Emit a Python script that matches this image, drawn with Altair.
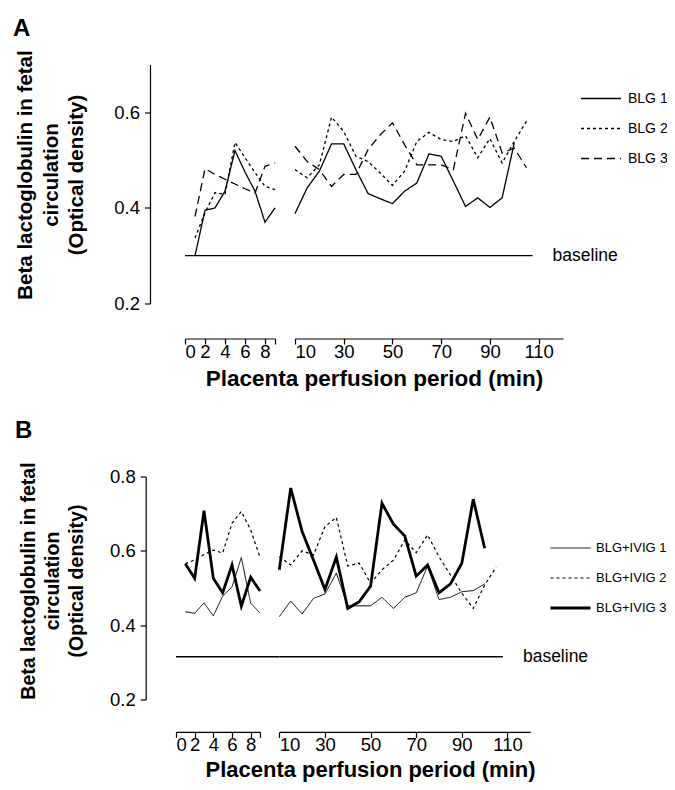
import altair as alt
import pandas as pd

FONT = "Liberation Sans"

# ---------------- Panel A data ----------------
A_T_EARLY = [1, 2, 3, 4, 5, 6, 7, 8, 9]
A_BLG1_EARLY = [0.300, 0.395, 0.400, 0.435, 0.520, 0.475, 0.435, 0.370, 0.400]
A_BLG2_EARLY = [0.337, 0.390, 0.432, 0.428, 0.537, 0.505, 0.474, 0.445, 0.438]
A_BLG3_EARLY = [0.382, 0.482, 0.470, 0.460, 0.450, 0.440, 0.431, 0.487, 0.494]

A_T_LATE = [10, 15, 20, 25, 30, 35, 40, 45, 50, 55, 60, 65, 70, 75, 80, 85, 90, 95, 100, 105]
A_BLG1_LATE = [0.388, 0.442, 0.477, 0.534, 0.534, 0.480, 0.430, 0.419, 0.409, 0.435,
               0.452, 0.513, 0.508, 0.456, 0.403, 0.421, 0.401, 0.421, 0.536]
A_BLG2_LATE = [0.480, 0.463, 0.490, 0.590, 0.560, 0.508, 0.497, 0.473, 0.447, 0.477,
               0.539, 0.558, 0.543, 0.539, 0.551, 0.505, 0.545, 0.494, 0.539, 0.581]
A_BLG3_LATE = [0.529, 0.497, 0.480, 0.445, 0.470, 0.470, 0.522, 0.553, 0.578, 0.532,
               0.490, 0.490, 0.490, 0.480, 0.598, 0.543, 0.590, 0.515, 0.525, 0.484]
A_SERIES = ["BLG 1", "BLG 2", "BLG 3"]
A_BASELINE = 0.30
A_BASELINE_END = 107.5

# ---------------- Panel B data ----------------
B_T_EARLY = [1, 2, 3, 4, 5, 6, 7, 8, 9]
B_IVIG1_EARLY = [0.436, 0.432, 0.460, 0.425, 0.478, 0.503, 0.582, 0.459, 0.433]
B_IVIG2_EARLY = [0.565, 0.576, 0.590, 0.602, 0.594, 0.674, 0.706, 0.656, 0.583]
B_IVIG3_EARLY = [0.565, 0.526, 0.708, 0.526, 0.487, 0.562, 0.451, 0.529, 0.492]

B_T_LATE = [10, 15, 20, 25, 30, 35, 40, 45, 50, 55, 60, 65, 70, 75, 80, 85, 90, 95, 100, 105]
B_IVIG1_LATE = [0.423, 0.465, 0.430, 0.472, 0.484, 0.540, 0.452, 0.452, 0.452, 0.475,
                0.445, 0.475, 0.487, 0.559, 0.469, 0.475, 0.490, 0.493, 0.511]
B_IVIG2_LATE = [0.584, 0.562, 0.600, 0.589, 0.665, 0.690, 0.559, 0.567, 0.513, 0.549,
                0.575, 0.629, 0.595, 0.643, 0.584, 0.535, 0.486, 0.445, 0.508, 0.556]
B_IVIG3_LATE = [0.549, 0.769, 0.652, 0.575, 0.496, 0.583, 0.445, 0.463, 0.505, 0.728,
                0.672, 0.640, 0.532, 0.562, 0.487, 0.511, 0.567, 0.739, 0.607]
B_SERIES = ["BLG+IVIG 1", "BLG+IVIG 2", "BLG+IVIG 3"]
B_BASELINE = 0.315
B_BASELINE_END = 108

Y_TITLE = ["Beta lactoglobulin in fetal", "circulation", "(Optical density)"]
X_TITLE = "Placenta perfusion period (min)"
EARLY_TICKS = [0, 2, 4, 6, 8, 9]
LATE_TICKS = [10, 30, 50, 70, 90, 110]


def long_df(t, names, arrays):
    frames = []
    for n, vals in zip(names, arrays):
        frames.append(pd.DataFrame({"t": t[:len(vals)], "v": vals, "series": n}))
    return pd.concat(frames, ignore_index=True)


def segment(df, base_df, xenc_kwargs, yenc_kwargs, dash_scale, width_scale, legend,
            width, height, text_df=None, text_dx=20, title=None):
    X = lambda f: alt.X(f, **xenc_kwargs)
    Y = lambda f: alt.Y(f, **yenc_kwargs)
    rule = alt.Chart(base_df).mark_rule(color="black", strokeWidth=1.3, clip=False).encode(
        x=X("t:Q"), x2="t2:Q", y=Y("v:Q"))
    lines = alt.Chart(df).mark_line(color="black", strokeCap="butt", clip=False).encode(
        x=X("t:Q"), y=Y("v:Q"),
        strokeDash=alt.StrokeDash("series:N", scale=dash_scale, legend=legend),
        strokeWidth=alt.StrokeWidth("series:N", scale=width_scale, legend=legend),
    )
    layers = [rule, lines]
    if text_df is not None:
        txt = alt.Chart(text_df).mark_text(align="left", baseline="middle", dx=text_dx,
                                           font=FONT, fontSize=17.5, color="black").encode(
            x=X("t2:Q"), y=Y("v:Q"), text="label:N")
        layers.append(txt)
    ch = alt.layer(*layers).properties(width=width, height=height)
    if title is not None:
        ch = ch.properties(title=title)
    return ch


def letter(txt, dx, offset):
    return alt.TitleParams(txt, anchor="start", frame="group", fontSize=24, fontWeight="bold",
                           font=FONT, color="black", dx=dx, offset=offset)


# ---------------- Panel A ----------------
dfA1 = long_df(A_T_EARLY, A_SERIES, [A_BLG1_EARLY, A_BLG2_EARLY, A_BLG3_EARLY])
dfA2 = long_df(A_T_LATE, A_SERIES, [A_BLG1_LATE, A_BLG2_LATE, A_BLG3_LATE])
baseA1 = pd.DataFrame({"t": [0], "t2": [11], "v": [A_BASELINE]})
baseA2 = pd.DataFrame({"t": [10], "t2": [A_BASELINE_END], "v": [A_BASELINE], "label": ["baseline"]})

dashA = alt.Scale(domain=A_SERIES, range=[[1, 0], [3, 3], [8, 5]])
widthA = alt.Scale(type="ordinal", domain=A_SERIES, range=[1.3, 1.3, 1.3])
yAscale = alt.Scale(domain=[0.2, 0.7], nice=False, zero=False)

legendA = alt.Legend(orient="none", legendX=285, legendY=13, title=None, symbolType="stroke",
                     symbolSize=1600, symbolStrokeColor="black", labelFont=FONT, labelFontSize=14,
                     labelColor="black", labelOffset=6, rowPadding=2, padding=0)

A1 = segment(
    dfA1, baseA1,
    dict(scale=alt.Scale(domain=[0, 9], nice=False, zero=False),
         axis=alt.Axis(values=EARLY_TICKS, labelExpr="datum.value == 9 ? '' : datum.label",
                       offset=35, title=X_TITLE, titleX=189, titleY=47, titleAlign="center",
                       titleBaseline="alphabetic", titleFontSize=22.5)),
    dict(scale=yAscale,
         axis=alt.Axis(values=[0.2, 0.4, 0.6], format=".1f", offset=35, title=Y_TITLE,
                       titleX=-124.5, titleY=110, titleAngle=270, titleAlign="center",
                       titleBaseline="middle", titleLineHeight=25.5, titleFontSize=20.5,
                       labelPadding=5)),
    dashA, widthA, None, 90, 239, title=letter("A", -172, 8.5))

A2 = segment(
    dfA2, baseA2,
    dict(scale=alt.Scale(domain=[10, 120], nice=False, zero=False),
         axis=alt.Axis(values=LATE_TICKS, offset=35, title=None)),
    dict(scale=yAscale, axis=None),
    dashA, widthA, legendA, 268, 239, text_df=baseA2, text_dx=20)

# ---------------- Panel B ----------------
dfB1 = long_df(B_T_EARLY, B_SERIES, [B_IVIG1_EARLY, B_IVIG2_EARLY, B_IVIG3_EARLY])
dfB2 = long_df(B_T_LATE, B_SERIES, [B_IVIG1_LATE, B_IVIG2_LATE, B_IVIG3_LATE])
baseB1 = pd.DataFrame({"t": [0], "t2": [11.07], "v": [B_BASELINE]})
baseB2 = pd.DataFrame({"t": [10], "t2": [B_BASELINE_END], "v": [B_BASELINE], "label": ["baseline"]})

dashB = alt.Scale(domain=B_SERIES, range=[[1, 0], [3, 3], [1, 0]])
widthB = alt.Scale(type="ordinal", domain=B_SERIES, range=[1.0, 1.2, 2.8])
yBscale = alt.Scale(domain=[0.2, 0.8], nice=False, zero=False)

legendB = alt.Legend(orient="none", legendX=254, legendY=51, title=None, symbolType="stroke",
                     symbolSize=1600, symbolStrokeColor="black", labelFont=FONT, labelFontSize=13,
                     labelColor="black", labelOffset=4, rowPadding=1.5, padding=0)

B1 = segment(
    dfB1, baseB1,
    dict(scale=alt.Scale(domain=[0, 9], range=[-9, 75], nice=False, zero=False),
         axis=alt.Axis(values=EARLY_TICKS, labelExpr="datum.value == 9 ? '' : datum.label",
                       offset=32.4, title=X_TITLE, titleX=185, titleY=45, titleAlign="center",
                       titleBaseline="alphabetic", titleFontSize=22)),
    dict(scale=yBscale,
         axis=alt.Axis(values=[0.2, 0.4, 0.6, 0.8], format=".1f", offset=39.3, title=Y_TITLE,
                       titleX=-117, titleY=104, titleAngle=270, titleAlign="center",
                       titleBaseline="middle", titleLineHeight=24, titleFontSize=19.5,
                       labelPadding=5)),
    dashB, widthB, None, 90, 223, title=letter("B", -170, 19))

B2 = segment(
    dfB2, baseB2,
    dict(scale=alt.Scale(domain=[10, 120], range=[-15.7, 235.3], nice=False, zero=False),
         axis=alt.Axis(values=LATE_TICKS, offset=32.4, title=None)),
    dict(scale=yBscale, axis=None),
    dashB, widthB, legendB, 268, 223, text_df=baseB2, text_dx=20)

# Layout: A1 plot area top-left at page (185, 64.5); svg kept 659 px wide so it is not shrunk.
chart = alt.concat(
    A1, A2, B1, B2, columns=2,
    spacing=alt.RowColnumber(row=173, column=20), bounds="flush",
).resolve_scale(
    x="independent", y="independent", strokeDash="independent", strokeWidth="independent"
).properties(
    autosize=alt.AutoSizeParams(type="none"),
    padding={"left": 177, "top": 56.5, "right": 482, "bottom": 717},
).configure_view(stroke=None).configure_axis(
    grid=False, domainColor="black", tickColor="black", labelColor="black", titleColor="black",
    labelFont=FONT, labelFontSize=18.5, titleFont=FONT, titleFontWeight="bold",
    tickSize=5.5, labelPadding=-1.5, domainWidth=1.2, tickWidth=1.2,
).configure_text(font=FONT)

chart.save("out.html", embed_options={"renderer": "svg", "actions": False})
